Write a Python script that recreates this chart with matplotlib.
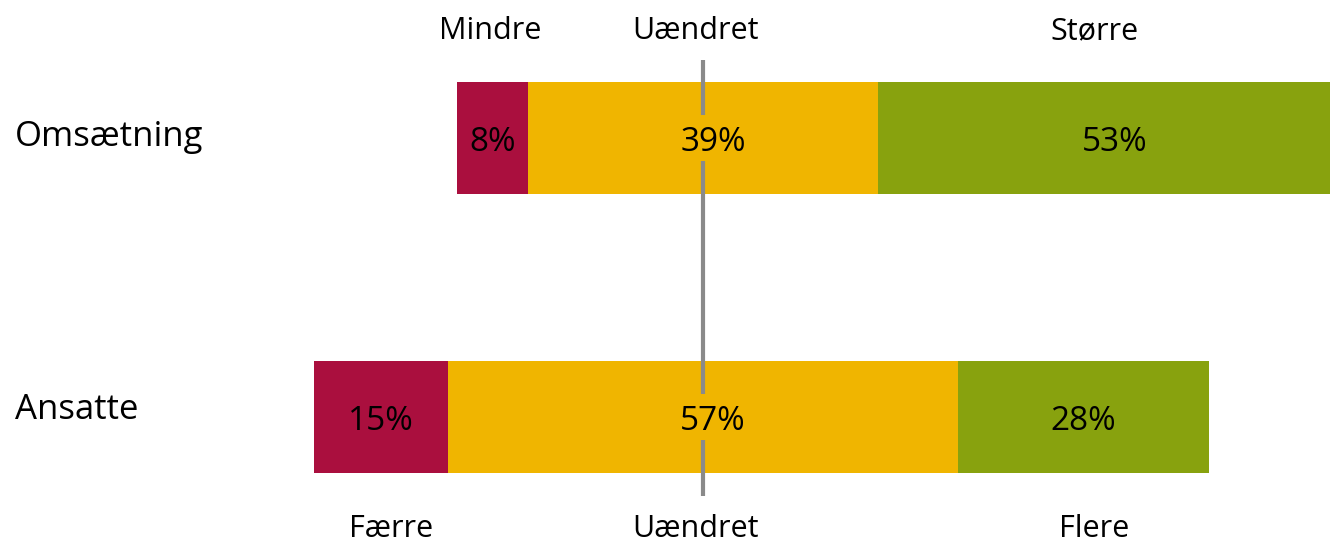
import numpy as np
import matplotlib.pyplot as plt

# data
categories = ["Omsætning", "Ansatte"]
negative = [8, 15]      # Mindre / Færre
neutral = [39, 57]      # Uændret
positive = [53, 28]     # Større / Flere
top_labels = ["Mindre", "Uændret", "Større"]
bottom_labels = ["Færre", "Uændret", "Flere"]

colors = ["#AA0F3E", "#F0B500", "#88A20E"]
plt.rcParams['font.family'] = ['Open Sans', 'DejaVu Sans']

fig = plt.figure(figsize=(13.3, 5.4), dpi=100)
ax = fig.add_axes([0, 0, 1, 1])

neg = np.array(negative, dtype=float)
neu = np.array(neutral, dtype=float)
pos = np.array(positive, dtype=float)
y = np.arange(len(categories))

# bars centred on the middle of the neutral segment
start = -neu / 2 - neg
h = 0.40
ax.barh(y, neg, left=start, height=h, color=colors[0], lw=0)
ax.barh(y, neu, left=start + neg, height=h, color=colors[1], lw=0)
ax.barh(y, pos, left=neu / 2, height=h, color=colors[2], lw=0)

# centre line, broken where the neutral labels sit
gap = 0.084
segs = [(-0.28, y[0] - gap), (y[0] + gap, y[1] - gap), (y[1] + gap, 1.283)]
for a, b in segs:
    ax.plot([0, 0], [a, b], color="#8A8A8A", lw=3, zorder=3, solid_capstyle="butt")

fs = 24
dy = 0.016
for i in range(len(categories)):
    ax.text(start[i] + neg[i] / 2, y[i] + dy, f"{negative[i]}%", ha="center", va="center",
            fontsize=fs, color="black", zorder=4)
    ax.text(1.1, y[i] + dy, f"{neutral[i]}%", ha="center", va="center",
            fontsize=fs, color="black", zorder=4)
    ax.text(neu[i] / 2 + pos[i] / 2, y[i] + dy, f"{positive[i]}%", ha="center", va="center",
            fontsize=fs, color="black", zorder=4)
    ax.text(-76.9, y[i] - 0.004 - 0.02 * i, categories[i], ha="left", va="center",
            fontsize=25, color="black")

# column headers
top_x = [-23.8, -0.8, 43.7]
bottom_x = [-34.9, -0.8, 43.7]
for lab, xx in zip(top_labels, top_x):
    ax.text(xx, -0.383, lab, ha="center", va="center", fontsize=22, color="black")
for lab, xx in zip(bottom_labels, bottom_x):
    ax.text(xx, 1.402, lab, ha="center", va="center", fontsize=22, color="black")

ax.set_xlim(-78.55, 70.06)
ax.set_ylim(1.4409, -0.4946)
ax.axis("off")

fig.savefig("out.png", dpi=100)
